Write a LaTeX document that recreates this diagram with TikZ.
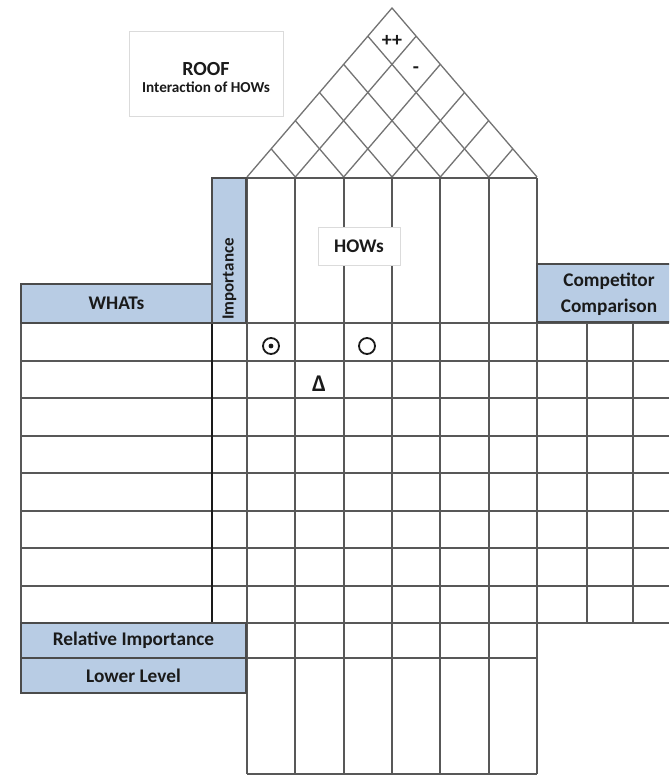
\documentclass[tikz,border=0pt]{standalone}
\usepackage{fontspec}
\setmainfont{Carlito}
\usetikzlibrary{calc}

\definecolor{hdrblue}{HTML}{B8CCE4}
\definecolor{gridgray}{HTML}{585858}
\definecolor{roofgray}{HTML}{737373}
\definecolor{ink}{HTML}{1A1A1A}

\tikzset{
  gridline/.style={draw=gridgray, line width=2pt},
  keyline/.style={draw=ink, line width=1.5pt},
  rooflines/.style={draw=roofgray, line width=1.3pt},
  hdrbox/.style={draw=gridgray!85!black, fill=hdrblue, line width=1.6pt,
                 inner sep=0pt, outer sep=0pt, anchor=north west},
  tagbox/.style={draw=black!14, fill=white, line width=1pt,
                 inner sep=0pt, outer sep=0pt, anchor=north west},
  lbl/.style={font=\fontsize{19.3}{22}\selectfont\bfseries, text=ink, inner sep=0pt},
  sublbl/.style={font=\fontsize{15.2}{17}\selectfont\bfseries, text=ink, inner sep=0pt},
  relmark/.style={draw=ink, circle, line width=1.8pt, minimum size=16pt, inner sep=0pt},
}

\begin{document}
\begin{tikzpicture}[x=1pt, y=-1pt]
  \clip (0,0) rectangle (669,776);
  \fill[white] (0,0) rectangle (669,776);

  % ---- roof: triangular correlation matrix over the six HOW columns
  \coordinate (apex)  at (392,8);
  \coordinate (base0) at (247,177);
  \coordinate (base6) at (537,177);
  \draw[rooflines] (base0) -- (apex) -- (base6);
  \foreach \k in {1,...,5} {
    \coordinate (b\k) at ($(base0)!\k/6!(base6)$);
    \draw[rooflines] ($(base0)!\k/6!(apex)$) -- (b\k) -- ($(base6)!{1-\k/6}!(apex)$);
  }
  \node[font=\fontsize{20}{20}\selectfont\bfseries, text=ink] (plusplus) at (392,41) {++};
  \node[font=\fontsize{20}{20}\selectfont\bfseries, text=ink] (minus) at (416,70) {-};

  % ---- roof caption
  \node[tagbox, minimum width=154pt, minimum height=84pt] (roofnote) at (129,32) {};
  \node[lbl, font=\fontsize{20}{22}\selectfont\bfseries] (rooftitle) at (206,69) {ROOF};
  \node[sublbl] (roofsub) at (206,87) {Interaction of HOWs};

  % ---- horizontal grid lines
  \draw[gridline] (247,178) -- (537,178);
  \foreach \r in {0,...,8} {
    \draw[gridline] (21,323+\r*37.5) -- (669,323+\r*37.5);
  }
  \draw[gridline] (21,658) -- (537,658);
  \draw[gridline] (247,774) -- (537,774);

  % ---- vertical grid lines
  \draw[gridline] (21,323) -- (21,623);
  \draw[keyline] (212,323) -- (212,623);
  \foreach \c in {0,...,6} {
    \draw[gridline] (247+\c*48.333,178) -- (247+\c*48.333,774);
  }
  \draw[gridline] (587,322) -- (587,623);
  \draw[gridline] (633,322) -- (633,623);

  % ---- header boxes
  \node[hdrbox, minimum width=34pt, minimum height=145pt] (importance) at (212,178) {};
  \node[lbl, font=\fontsize{17}{20}\selectfont\bfseries, rotate=90] (importancetxt) at (229.5,279) {Importance};

  \node[hdrbox, minimum width=191pt, minimum height=39pt] (whats) at (21,284) {};
  \node[lbl] (whatstxt) at (whats.center) {WHATs};

  \node[hdrbox, minimum width=144pt, minimum height=58pt] (competitor) at (537,264) {};
  \node[lbl, align=center, font=\fontsize{19.3}{26}\selectfont\bfseries] (competitortxt) at (609,294) {Competitor\\Comparison};

  \node[hdrbox, minimum width=225pt, minimum height=35pt] (relimp) at (21,623) {};
  \node[lbl] (relimptxt) at (relimp.center) {Relative Importance};

  \node[hdrbox, minimum width=225pt, minimum height=35pt] (lower) at (21,658) {};
  \node[lbl] (lowertxt) at (lower.center) {Lower Level};

  % ---- HOWs caption
  \node[tagbox, minimum width=82pt, minimum height=38pt] (hows) at (318,227) {};
  \node[lbl] (howstxt) at (hows.center) {HOWs};

  % ---- relationship symbols
  \node[relmark] (strong) at (271,346) {};
  \fill[ink] (strong.center) circle (2.4pt);
  \node[relmark] (medium) at (367,346) {};
  \node[lbl, font=\fontsize{24}{24}\selectfont\bfseries] (weak) at (319,384) {Δ};
\end{tikzpicture}
\end{document}
